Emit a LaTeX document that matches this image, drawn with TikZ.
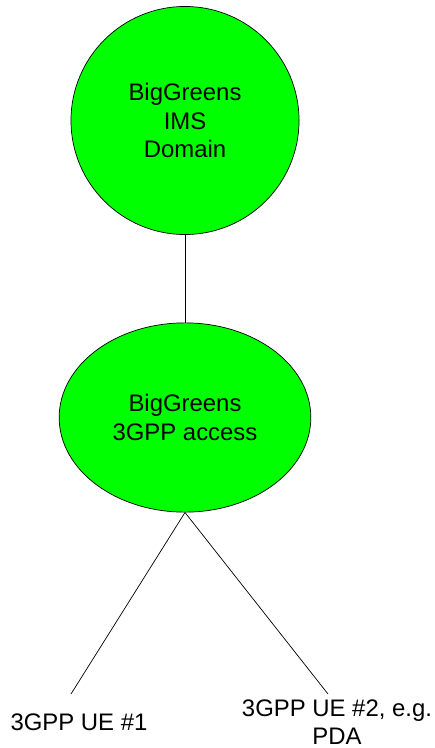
\documentclass[tikz,border=0pt]{standalone}
\usepackage{fontspec}
\setmainfont{Liberation Sans}
\usetikzlibrary{shapes, positioning}
\definecolor{brightgreen}{RGB}{0,255,0}
\tikzset{
    bigG/.style={draw, fill=brightgreen, line width=.5pt},
    wire/.style={draw, line width=.5pt}
}

\begin{document}
\begin{tikzpicture}[x=0.025cm, y=-0.025cm]
    \def \Wd {434}
    \def \Ht {748}
    \tikzstyle{every node}=[font=\fontsize{17}{20.2}\selectfont, align=center, inner sep=0pt];
    \useasboundingbox (0,0) rectangle (\Wd,\Ht);
    \node[bigG, circle, minimum size=5.7cm] (ims) at (185,120.5) {BigGreens\\IMS\\Domain};
    \node[bigG, ellipse, minimum width=6.29cm, minimum height=4.73cm] (acc) at (185,417.5) {BigGreens\\3GPP access};
    \coordinate (u1) at (71,694);
    \coordinate (u2) at (328,694);
    \node (ue1) at (79,722) {3GPP UE \#1};
    \node (ue2) at (337,722) {3GPP UE \#2, e.g.\\PDA};
    \draw[wire] (ims) -- (acc);
    \draw[wire] (acc.south) -- (u1);
    \draw[wire] (acc.south) -- (u2);
\end{tikzpicture}
\end{document}
